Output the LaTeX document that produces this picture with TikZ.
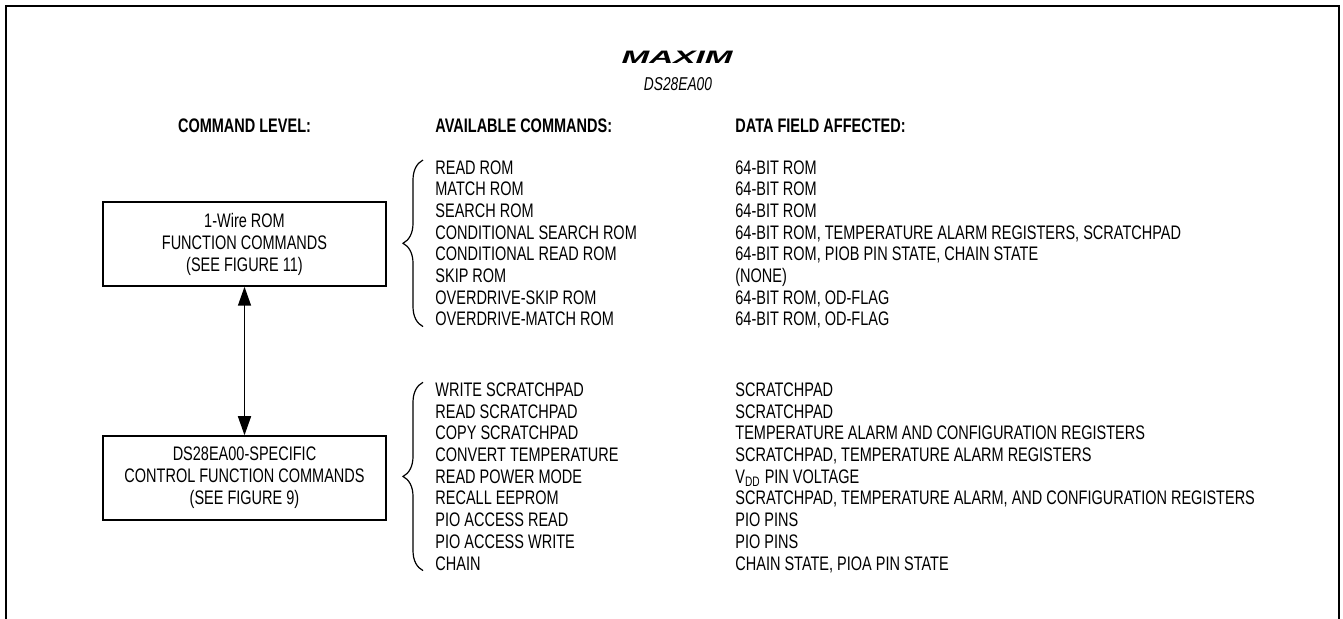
\documentclass[tikz,border=0pt]{standalone}
\usepackage{fontspec}
\setmainfont{Liberation Sans}[FakeStretch=0.74]
\newfontfamily\logofont{Liberation Sans}[FakeStretch=1.85]
\usepackage{tikz}
\usetikzlibrary{positioning}
\usetikzlibrary{decorations.pathreplacing}
\usetikzlibrary{arrows.meta}

\begin{document}
\begin{tikzpicture}
      [
        x = 0.5pt, y = -0.5pt,
        every node/.style = {inner sep = 0pt, font = \fontsize{9.8}{10.85}\selectfont},
        level box/.style = {draw, line width = 0.75pt, minimum width = 141.5pt, minimum height = 42pt,
            align = center, font = \fontsize{9.8}{11}\selectfont},
        heading/.style = {font = \fontsize{9.8}{10.85}\selectfont\bfseries},
        list/.style = {anchor = base west, align = left},
        group brace/.style = {decorate, decoration = {brace, amplitude = 10pt}, line width = 0.6pt}
      ]

      \useasboundingbox (0,0) rectangle (1343,619);
      \draw[line width = 1pt] (6,619) -- (6,6) -- (1339,6) -- (1339,619);

      \node[font = \fontsize{9}{10}\selectfont\logofont\bfseries\itshape] (logo) at (677,57) {MAXIM};
      \node[font = \fontsize{9.3}{10}\selectfont\itshape] (part) at (678,84) {DS28EA00};

      \node[heading, anchor = base] (levelhead) at (244.5,133) {COMMAND LEVEL:};
      \node[heading, anchor = base west] (cmdhead) at (435,133) {AVAILABLE COMMANDS:};
      \node[heading, anchor = base west] (datahead) at (735,133) {DATA FIELD AFFECTED:};

      \node[level box] (rombox) at (244.5,244) {1-Wire ROM\\FUNCTION COMMANDS\\(SEE FIGURE 11)};
      \node[level box] (ctrlbox) at (244.5,478) {DS28EA00-SPECIFIC\\CONTROL FUNCTION COMMANDS\\(SEE FIGURE 9)};

      \draw[{Triangle[length = 9.5pt, width = 6.5pt]}-{Triangle[length = 9.5pt, width = 6.5pt]}, line width = 0.75pt]
        (rombox) -- (ctrlbox);

      % base of a list node is the baseline of its last line
      \node[list] (romcmds) at (435,326) {READ ROM\\MATCH ROM\\SEARCH ROM\\CONDITIONAL SEARCH ROM\\
          CONDITIONAL READ ROM\\SKIP ROM\\OVERDRIVE-SKIP ROM\\OVERDRIVE-MATCH ROM};
      \node[list] (romdata) at (735,326) {64-BIT ROM\\64-BIT ROM\\64-BIT ROM\\
          64-BIT ROM, TEMPERATURE ALARM REGISTERS, SCRATCHPAD\\
          64-BIT ROM, PIOB PIN STATE, CHAIN STATE\\(NONE)\\64-BIT ROM, OD-FLAG\\64-BIT ROM, OD-FLAG};

      \node[list] (ctrlcmds) at (435,570) {WRITE SCRATCHPAD\\READ SCRATCHPAD\\COPY SCRATCHPAD\\
          CONVERT TEMPERATURE\\READ POWER MODE\\RECALL EEPROM\\PIO ACCESS READ\\PIO ACCESS WRITE\\CHAIN};
      \node[list] (ctrldata) at (735,570) {SCRATCHPAD\\SCRATCHPAD\\
          TEMPERATURE ALARM AND CONFIGURATION REGISTERS\\
          SCRATCHPAD, TEMPERATURE ALARM REGISTERS\\
          V\textsubscript{DD} PIN VOLTAGE\\
          SCRATCHPAD, TEMPERATURE ALARM, AND CONFIGURATION REGISTERS\\
          PIO PINS\\PIO PINS\\CHAIN STATE, PIOA PIN STATE};

      \draw[group brace] ([xshift = -6pt]romcmds.south west) -- ([xshift = -6pt]romcmds.north west);
      \draw[group brace] ([xshift = -6pt]ctrlcmds.south west) -- ([xshift = -6pt]ctrlcmds.north west);

    \end{tikzpicture}
\end{document}
